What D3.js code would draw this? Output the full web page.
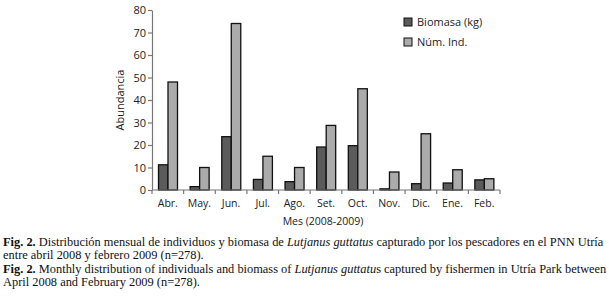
<!DOCTYPE html>
<html>
<head>
<meta charset="utf-8">
<script src="https://cdn.jsdelivr.net/npm/d3@7"></script>
<style>
  body { margin: 0; background: #fff; }
  svg { display: block; }
</style>
</head>
<body>
<div class="chartContainer"></div>
<script>
// Months (x categories)
const months = ["Abr.", "May.", "Jun.", "Jul.", "Ago.", "Set.", "Oct.", "Nov.", "Dic.", "Ene.", "Feb."];
// Biomass (kg) per month
const biomasa = [11.2, 1.5, 23.7, 4.7, 3.7, 19.1, 19.7, 0.5, 2.8, 3.1, 4.5];
// Number of individuals per month
const numInd = [48, 10, 74, 15, 10, 28.7, 45, 8, 25, 9, 5];
const seriesNames = ["Biomasa (kg)", "Núm. Ind."];
const yTicks = [0, 10, 20, 30, 40, 50, 60, 70, 80];

const width = 609, height = 307;
const margin = { left: 152, right: 109, top: 10, bottom: 117 };

const svg = d3.select(".chartContainer")
  .append("svg")
  .attr("width", width)
  .attr("height", height);

const x = d3.scaleBand()
  .domain(months)
  .range([margin.left, width - margin.right]);

const y = d3.scaleLinear()
  .domain([0, 80])
  .range([height - margin.bottom, margin.top]);

const sub = d3.scaleBand()
  .domain(seriesNames)
  .range([0, 19]);

const colors = ["#5b5b5b", "#ababab"];
const sansFont = "'Open Sans', sans-serif";

// Bars
const series = [biomasa, numInd];
series.forEach(function (vals, si) {
  svg.append("g")
    .selectAll("rect")
    .data(vals)
    .enter()
    .append("rect")
    .attr("x", function (d, i) { return x(months[i]) + 6.5 + sub(seriesNames[si]); })
    .attr("y", function (d) { return y(d); })
    .attr("width", sub.bandwidth())
    .attr("height", function (d) { return y(0) - y(d); })
    .attr("fill", colors[si])
    .attr("stroke", "#111")
    .attr("stroke-width", 1.3);
});

// Y axis
const yAxis = svg.append("g")
  .attr("transform", `translate(${margin.left},0)`)
  .call(d3.axisLeft(y).tickValues(yTicks).tickSize(4).tickSizeOuter(0));

// X axis with ticks at band boundaries
const xAxis = svg.append("g")
  .attr("transform", `translate(0,${y(0)})`);
xAxis.append("line")
  .attr("x1", margin.left).attr("x2", width - margin.right)
  .attr("y1", 0).attr("y2", 0);
const bounds = months.map(function (m) { return x(m); }).concat([width - margin.right]);
xAxis.selectAll(".bt")
  .data(bounds)
  .enter()
  .append("line")
  .attr("class", "bt")
  .attr("x1", function (d) { return d; }).attr("x2", function (d) { return d; })
  .attr("y1", 0).attr("y2", 4);
xAxis.selectAll("line").attr("stroke", "#777").attr("stroke-width", 1.2);
xAxis.selectAll("text")
  .data(months)
  .enter()
  .append("text")
  .attr("x", function (d) { return x(d) + x.bandwidth() / 2; })
  .attr("y", 17)
  .attr("text-anchor", "middle")
  .text(function (d) { return d; });
xAxis.selectAll("text")
  .attr("font-family", sansFont)
  .attr("font-size", 10.5)
  .attr("fill", "#222");

yAxis.select(".domain").attr("stroke", "#777").attr("stroke-width", 1.2);
yAxis.selectAll(".tick line").attr("stroke", "#777").attr("stroke-width", 1.2);
yAxis.selectAll(".tick text")
  .attr("font-family", sansFont)
  .attr("font-size", 11)
  .attr("fill", "#222")
  .attr("x", -6);

// Axis titles
svg.append("text")
  .attr("transform", `translate(124,${(y(0) + y(80)) / 2}) rotate(-90)`)
  .attr("text-anchor", "middle")
  .attr("font-family", sansFont)
  .attr("font-size", 11)
  .attr("fill", "#222")
  .text("Abundancia");

svg.append("text")
  .attr("x", 323)
  .attr("y", 225)
  .attr("text-anchor", "middle")
  .attr("font-family", sansFont)
  .attr("font-size", 10.5)
  .attr("fill", "#222")
  .text("Mes (2008-2009)");

// Legend
const legend = svg.append("g")
  .selectAll("g")
  .data(seriesNames)
  .enter()
  .append("g")
  .attr("transform", function (d, i) { return `translate(404,${22 + i * 20})`; });
legend.append("rect")
  .attr("x", 0).attr("y", -4)
  .attr("width", 8).attr("height", 8)
  .attr("fill", function (d, i) { return colors[i]; })
  .attr("stroke", "#111")
  .attr("stroke-width", 1);
legend.append("text")
  .attr("x", 13).attr("y", 4)
  .attr("font-family", sansFont)
  .attr("font-size", 11)
  .attr("fill", "#222")
  .text(function (d) { return d; });

// Caption
const capLines = [
  [["b", "Fig. 2."], ["n", " Distribución mensual de individuos y biomasa de "], ["i", "Lutjanus guttatus"], ["n", " capturado por los pescadores en el PNN Utría"]],
  [["n", "entre abril 2008 y febrero 2009 (n=278)."]],
  [["b", "Fig. 2."], ["n", " Monthly distribution of individuals and biomass of "], ["i", "Lutjanus guttatu"], ["n", "s captured by fishermen in Utría Park between"]],
  [["n", "April 2008 and February 2009 (n=278)."]]
];
const capY = [246, 259, 273, 286];
capLines.forEach(function (parts, li) {
  const t = svg.append("text")
    .attr("x", 3)
    .attr("y", capY[li])
    .attr("font-family", "'Liberation Serif', 'Times New Roman', serif")
    .attr("font-size", 12.4)
    .attr("fill", "#111");
  parts.forEach(function (p) {
    t.append("tspan")
      .attr("font-weight", p[0] === "b" ? "bold" : null)
      .attr("font-style", p[0] === "i" ? "italic" : null)
      .text(p[1]);
  });
});
</script>
</body>
</html>
